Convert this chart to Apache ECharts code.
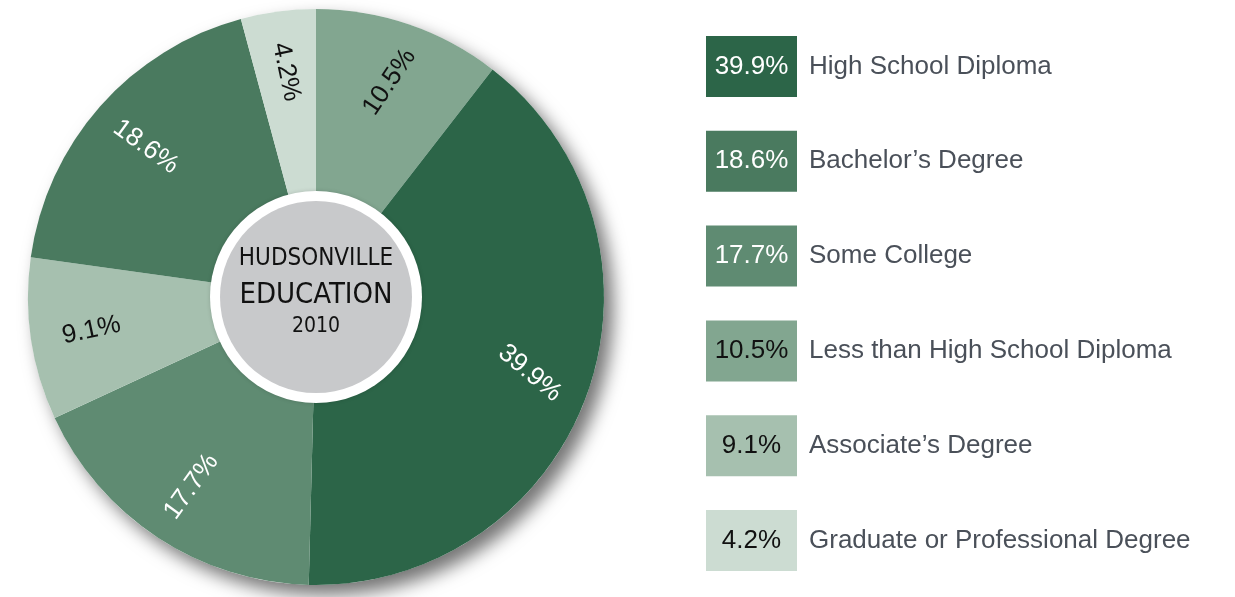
<!DOCTYPE html>
<html>
<head>
<meta charset="utf-8">
<script src="https://cdn.jsdelivr.net/npm/echarts@6/dist/echarts.min.js"></script>
<style>
html,body{margin:0;padding:0;background:#fff;}
#c{width:1235px;height:597px;}
</style>
</head>
<body>
<div id="c"></div>
<script>
// Data (clockwise from 12 o'clock)
const categories = ['Less than High School Diploma', 'High School Diploma', 'Some College', "Associate\u2019s Degree", "Bachelor\u2019s Degree", 'Graduate or Professional Degree'];
const values = [10.5, 39.9, 17.7, 9.1, 18.6, 4.2];
// Legend order
const legendOrder = ['High School Diploma', "Bachelor\u2019s Degree", 'Some College', 'Less than High School Diploma', "Associate\u2019s Degree", 'Graduate or Professional Degree'];
const centerTitle = ['HUDSONVILLE', 'EDUCATION', '2010'];

// Styles
const colors = ['#82a690', '#2c6548', '#5f8b72', '#a6c0af', '#4a7a5f', '#ccdcd2'];
const textColors = ['#111', '#fff', '#fff', '#111', '#fff', '#111'];
const labelRotate = [56, -40, 54, 12, -36, -78];
const narrow = '"DejaVu Sans Condensed", "Liberation Sans Narrow", "Arial Narrow", sans-serif';
const sans = '"Liberation Sans", Arial, sans-serif';

const CX = 316, CY = 297, R = 288;

const chart = echarts.init(document.getElementById('c'));

const rich = {
  t: { fontSize: 26, color: '#4a5059', fontFamily: sans, padding: [0, 0, 0, 12] }
};
categories.forEach((c, i) => {
  rich['b' + i] = {
    backgroundColor: colors[i], color: textColors[i], width: 91, height: 61, lineHeight: 61,
    align: 'center', fontSize: 26, fontFamily: sans
  };
});

const option = {
  animation: false,
  legend: {
    data: legendOrder,
    orient: 'vertical',
    left: 696,
    top: 31,
    icon: 'rect',
    itemWidth: 0,
    itemHeight: 0,
    itemGap: 33.8,
    selectedMode: false,
    textStyle: { rich: rich },
    formatter: function (name) {
      const i = categories.indexOf(name);
      return '{b' + i + '|' + values[i].toFixed(1) + '%}{t|' + name + '}';
    }
  },
  series: [
    {
      type: 'pie', silent: true, center: [CX, CY], radius: [0, R],
      label: { show: false }, labelLine: { show: false }, legendHoverLink: false,
      itemStyle: { color: '#fff', shadowBlur: 18, shadowOffsetX: 9, shadowOffsetY: 10, shadowColor: 'rgba(0,0,0,0.55)' },
      data: [{ value: 1, name: '__shadow' }], z: 1
    },
    {
      type: 'pie', silent: true, center: [CX, CY], radius: [0, R], startAngle: 90, clockwise: true,
      label: { show: false }, labelLine: { show: false },
      itemStyle: { borderWidth: 0 },
      data: categories.map((c, i) => ({ name: c, value: values[i], itemStyle: { color: colors[i] } })),
      z: 2
    },
    {
      type: 'pie', silent: true, center: [CX, CY], radius: [160, R], startAngle: 90, clockwise: true,
      legendHoverLink: false,
      labelLine: { show: false },
      itemStyle: { color: 'rgba(0,0,0,0)' },
      data: categories.map((c, i) => ({
        name: c, value: values[i],
        label: { show: true, position: 'inside', rotate: labelRotate[i], color: textColors[i],
          fontSize: 26, fontFamily: sans,
          formatter: values[i].toFixed(1) + '%' }
      })),
      z: 3
    },
    {
      type: 'pie', silent: true, center: [CX, CY], radius: [0, 106],
      label: { show: false }, labelLine: { show: false }, legendHoverLink: false,
      itemStyle: { color: '#ffffff', shadowBlur: 4, shadowColor: 'rgba(0,0,0,0.15)' },
      data: [{ value: 1, name: '__ring' }], z: 4
    },
    {
      type: 'pie', silent: true, center: [CX, CY], radius: [0, 96],
      labelLine: { show: false }, legendHoverLink: false,
      itemStyle: { color: '#c8c9cb' },
      label: {
        show: true, position: 'center', offset: [0, -6],
        formatter: '{a|' + centerTitle[0] + '}\n{b|' + centerTitle[1] + '}\n{c|' + centerTitle[2] + '}',
        rich: {
          a: { fontSize: 24, lineHeight: 36, color: '#111', fontFamily: narrow },
          b: { fontSize: 29, lineHeight: 36, color: '#111', fontFamily: narrow },
          c: { fontSize: 21, lineHeight: 28, color: '#111', fontFamily: narrow }
        }
      },
      data: [{ value: 1, name: '__center' }], z: 5
    }
  ]
};
chart.setOption(option);
</script>
</body>
</html>
